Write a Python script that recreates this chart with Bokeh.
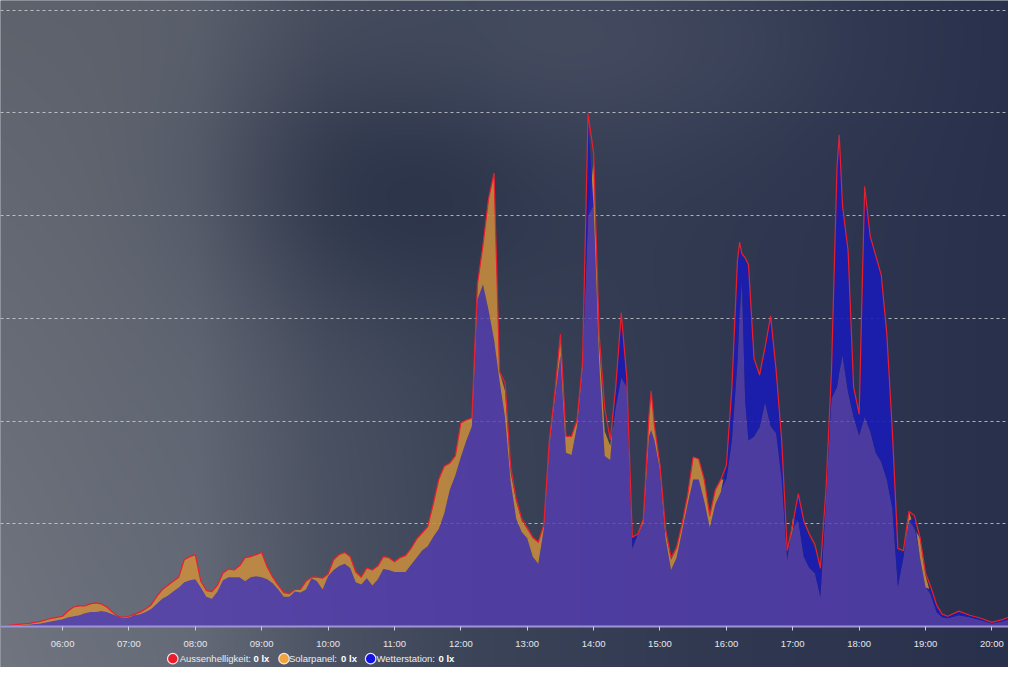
import numpy as np
import pandas as pd
from bokeh.plotting import figure
from bokeh.models import Range1d, FixedTicker, DatetimeTickFormatter, Label, ColumnDataSource, Grid
from bokeh.embed import file_html
from bokeh.resources import INLINE

DAY = "2023-06-15"

# ---------------- data (klx) ----------------
times = ["05:05", "05:10", "05:20", "05:30", "05:40", "05:50",
         "06:00", "06:05", "06:10", "06:15", "06:20", "06:25", "06:30", "06:35", "06:40", "06:45", "06:50", "06:55",
         "07:00", "07:05", "07:10", "07:15", "07:20", "07:25", "07:30", "07:35", "07:40", "07:45", "07:50", "07:55",
         "08:00", "08:05", "08:10", "08:15", "08:20", "08:25", "08:30", "08:35", "08:40", "08:45", "08:50", "08:55",
         "09:00", "09:05", "09:10", "09:15", "09:20", "09:25", "09:30", "09:35", "09:40", "09:45", "09:50", "09:55",
         "10:00", "10:05", "10:10", "10:15", "10:20", "10:25", "10:30", "10:35", "10:40", "10:45", "10:50", "10:55",
         "11:00", "11:05", "11:10", "11:15", "11:20", "11:25", "11:30", "11:35", "11:40", "11:45", "11:50", "11:55",
         "12:00", "12:05", "12:10", "12:15", "12:20", "12:25", "12:30", "12:35", "12:40", "12:45", "12:50", "12:55",
         "13:00", "13:05", "13:10", "13:15", "13:20", "13:25", "13:30", "13:35", "13:40", "13:45", "13:50", "13:55",
         "14:00", "14:05", "14:10", "14:15", "14:20", "14:25", "14:30", "14:35", "14:40", "14:45", "14:50", "14:52", "14:55",
         "15:00", "15:05", "15:10", "15:15", "15:20", "15:25", "15:30", "15:35", "15:40", "15:45", "15:50", "15:55",
         "16:00", "16:05", "16:10", "16:12", "16:14", "16:17", "16:20", "16:25", "16:30", "16:35", "16:40", "16:45", "16:50", "16:55",
         "17:00", "17:05", "17:10", "17:15", "17:20", "17:25", "17:30", "17:35", "17:40", "17:42", "17:45", "17:50", "17:55",
         "18:00", "18:05", "18:10", "18:15", "18:20", "18:25", "18:30", "18:35", "18:40", "18:45", "18:50", "18:55",
         "19:00", "19:05", "19:10", "19:15", "19:20", "19:30", "19:40", "19:50",
         "20:00", "20:10", "20:15"]

aussenhelligkeit = [0.1, 0.1, 0.2, 0.3, 0.5, 0.8,
                    1.0, 1.5, 1.9, 2.0, 2.0, 2.2, 2.3, 2.2, 1.9, 1.4, 1.0, 0.9,
                    1.0, 1.2, 1.4, 1.7, 2.1, 2.9, 3.6, 4.0, 4.4, 4.8, 6.5, 6.8,
                    7.0, 4.4, 3.5, 3.4, 4.0, 5.2, 5.6, 5.5, 5.9, 6.7, 6.8, 7.0,
                    7.2, 5.8, 4.8, 4.0, 3.3, 3.2, 3.6, 3.6, 4.4, 4.8, 4.8, 4.7,
                    5.1, 6.5, 7.0, 7.2, 6.8, 5.3, 4.8, 5.7, 5.5, 5.9, 6.8, 6.7,
                    6.3, 6.7, 6.9, 7.6, 8.5, 9.1, 9.7, 11.9, 14.3, 15.6, 15.9, 16.6,
                    19.8, 20.1, 20.3, 33.3, 37.1, 41.6, 44.1, 24.8, 23.7, 15.6, 12.4, 10.5,
                    9.6, 8.7, 8.2, 9.9, 18.1, 22.8, 28.4, 18.5, 18.5, 20.1, 25.7, 49.9,
                    46.1, 28.5, 21.3, 18.2, 23.3, 30.5, 24.2, 8.7, 9.0, 10.5, 20.4, 22.9, 19.5,
                    15.7, 9.5, 6.7, 7.7, 10.0, 12.8, 16.5, 16.3, 14.3, 10.8, 13.3, 14.3,
                    15.7, 23.3, 35.6, 37.4, 36.3, 35.9, 35.2, 26.1, 24.5, 27.2, 30.2, 24.9, 18.1, 7.4,
                    10.0, 12.9, 10.3, 9.0, 8.0, 5.7, 13.3, 24.9, 44.7, 47.8, 40.9, 36.6, 23.3,
                    20.7, 42.8, 38.0, 36.1, 34.2, 28.5, 19.0, 7.6, 7.4, 11.2, 10.8, 8.7,
                    5.2, 3.8, 2.1, 1.2, 1.0, 1.5, 1.1, 0.8,
                    0.4, 0.7, 0.9]

solarpanel = [0.1, 0.1, 0.2, 0.3, 0.5, 0.8,
              1.0, 1.5, 1.9, 2.0, 2.0, 2.2, 2.3, 2.2, 1.9, 1.4, 1.0, 0.9,
              1.0, 1.1, 1.4, 1.7, 2.1, 2.9, 3.5, 4.0, 4.4, 4.8, 6.5, 6.8,
              7.0, 4.4, 3.5, 3.4, 4.0, 5.2, 5.6, 5.5, 5.9, 6.7, 6.8, 7.0,
              7.2, 5.8, 4.8, 4.0, 3.3, 3.2, 3.6, 3.6, 4.4, 4.8, 4.8, 4.7,
              5.1, 6.5, 7.0, 7.2, 6.8, 5.3, 4.8, 5.7, 5.5, 5.9, 6.8, 6.7,
              6.3, 6.7, 6.9, 7.6, 8.5, 9.1, 9.7, 11.9, 14.3, 15.6, 15.9, 16.6,
              19.8, 20.1, 20.3, 33.3, 37.1, 41.6, 44.1, 24.8, 22.9, 15.0, 12.2, 10.3,
              9.5, 8.6, 8.2, 9.9, 18.1, 22.8, 28.4, 18.5, 18.5, 20.1, 25.5, 39.9,
              45.4, 27.6, 19.0, 17.6, 21.4, 24.2, 23.3, 7.6, 9.0, 10.5, 20.4, 22.9, 19.5,
              15.7, 9.3, 6.5, 7.6, 10.0, 12.8, 16.5, 16.3, 14.3, 10.8, 13.3, 14.3,
              14.3, 18.1, 25.7, 30.4, 33.6, 21.9, 18.1, 18.5, 19.4, 21.8, 19.5, 18.8, 14.3, 6.5,
              10.5, 10.3, 6.8, 5.7, 5.2, 2.9, 12.4, 22.2, 23.3, 24.7, 26.4, 22.8, 20.4,
              18.6, 20.4, 19.0, 16.9, 16.0, 14.3, 11.5, 3.9, 6.7, 11.2, 9.5, 8.6,
              5.0, 3.0, 1.4, 0.9, 0.8, 1.1, 0.9, 0.6,
              0.3, 0.5, 0.7]

wetterstation = [0.0, 0.1, 0.1, 0.2, 0.3, 0.5,
                 0.7, 0.9, 1.0, 1.1, 1.3, 1.4, 1.4, 1.5, 1.4, 1.2, 1.0, 0.8,
                 0.9, 1.1, 1.2, 1.4, 1.7, 2.2, 2.7, 3.0, 3.4, 3.8, 4.3, 4.5,
                 4.6, 3.8, 2.9, 2.7, 3.4, 4.5, 4.8, 4.8, 4.8, 4.4, 4.8, 4.9,
                 4.8, 4.6, 4.2, 3.6, 2.9, 2.9, 3.4, 3.3, 3.6, 4.7, 4.4, 3.6,
                 4.9, 5.5, 5.9, 6.1, 5.7, 4.3, 4.1, 4.7, 4.0, 4.6, 5.6, 5.5,
                 5.3, 5.3, 5.3, 6.0, 6.7, 7.4, 7.8, 8.7, 9.5, 11.0, 13.3, 14.7,
                 16.5, 18.1, 19.5, 31.8, 33.3, 30.8, 27.9, 23.9, 20.3, 14.1, 10.5, 9.2,
                 8.6, 6.8, 6.1, 9.5, 17.6, 22.3, 26.4, 16.9, 16.7, 19.5, 25.2, 49.4,
                 40.9, 25.7, 16.6, 16.2, 23.1, 30.2, 23.8, 8.6, 9.0, 10.1, 18.5, 19.1, 18.1,
                 15.2, 8.6, 5.5, 6.7, 9.3, 11.9, 14.3, 14.3, 12.2, 9.6, 11.9, 13.1,
                 15.7, 23.3, 35.4, 37.2, 36.1, 35.7, 35.1, 25.9, 24.3, 27.0, 30.0, 24.7, 17.9, 7.2,
                 9.5, 12.9, 10.0, 8.7, 7.6, 5.5, 13.3, 24.9, 44.7, 47.8, 40.9, 36.6, 23.3,
                 20.7, 42.8, 38.0, 36.1, 34.2, 28.5, 19.0, 7.4, 7.2, 10.3, 10.6, 6.7,
                 3.8, 3.6, 2.1, 1.2, 1.0, 1.4, 1.1, 0.8,
                 0.4, 0.7, 0.9]

hour_ticks = ["06:00", "07:00", "08:00", "09:00", "10:00", "11:00", "12:00", "13:00",
              "14:00", "15:00", "16:00", "17:00", "18:00", "19:00", "20:00"]
grid_levels = [10, 20, 30, 40, 50, 60]

series_names = ["Aussenhelligkeit", "Solarpanel", "Wetterstation"]
series_values = ["0 lx", "0 lx", "0 lx"]
series_colors = ["#ee1c2a", "#f2a33a", "#1212e6"]

# ---------------- geometry ----------------
W, H = 1008, 667
x_start = pd.Timestamp(f"{DAY} 05:03:55")
x_end = pd.Timestamp(f"{DAY} 20:15:00")
y_bot, y_top = -3.99, 60.93


def ms(ts):
    return ts.value / 1e6


x0_ms, x1_ms = ms(x_start), ms(x_end)


def xd(frac_px):  # reference-pixel -> data x (ms)
    return x0_ms + frac_px / 1024.0 * (x1_ms - x0_ms)


def yd(frac_py):  # reference-pixel -> data y
    return y_top - frac_py / 683.0 * (y_top - y_bot)


t = pd.to_datetime([f"{DAY} {s}" for s in times])
A = np.array(aussenhelligkeit)
S = np.array(solarpanel)
Wt = np.array(wetterstation)
M = np.minimum(S, Wt)
src = ColumnDataSource(data=dict(t=t, A=A, S=S, W=Wt, M=M))

p = figure(width=W, height=H, x_axis_type="datetime",
           x_range=Range1d(x_start, x_end), y_range=Range1d(y_bot, y_top),
           y_axis_location=None, toolbar_location=None, output_backend="svg",
           min_border=0, outline_line_color=None,
           background_fill_color="#3c4459", border_fill_color="#3c4459")

# default grids off (custom dashed grid added below)
p.xgrid.visible = False
p.ygrid.visible = False

# ---------------- background (blurred photo look) ----------------
IW, IH = 512, 342
xs = (np.arange(IW) + 0.5) / IW * 1024
ys = 683 - (np.arange(IH) + 0.5) / IH * 683
X, Y = np.meshgrid(xs, ys)
stops_x = [0, 200, 330, 480, 700, 1024]
stops_c = [(112, 117, 128), (100, 106, 119), (76, 83, 100), (60, 68, 89), (50, 58, 82), (40, 48, 76)]
chan = [np.interp(X, stops_x, [c[k] for c in stops_c]) for k in range(3)]
wl = np.clip(1 - X / 520.0, 0, 1) * 0.16 * (1 - Y / 683.0)
chan = [c * (1 - wl) for c in chan]
g1 = 0.6 * np.exp(-0.5 * (((X - 405) / 120.0) ** 2 + ((Y - 190) / 95.0) ** 2))
dark = (30, 38, 62)
chan = [c * (1 - g1) + dark[k] * g1 for k, c in enumerate(chan)]
g2 = 0.45 * np.exp(-0.5 * (((X - 600) / 170.0) ** 2 + ((Y - 40) / 80.0) ** 2))
light = (84, 90, 108)
chan = [c * (1 - g2) + light[k] * g2 for k, c in enumerate(chan)]
img = np.empty((IH, IW), dtype=np.uint32)
view = img.view(dtype=np.uint8).reshape((IH, IW, 4))
for k in range(3):
    view[:, :, k] = np.clip(chan[k], 0, 255).astype(np.uint8)
view[:, :, 3] = 255
p.image_rgba(image=[img], x=x0_ms, y=y_bot, dw=x1_ms - x0_ms, dh=y_top - y_bot, level="image")

# ---------------- grid / axis ----------------
ygrid = Grid(dimension=1, ticker=FixedTicker(ticks=grid_levels),
             grid_line_color="#e4e4ec", grid_line_alpha=0.7,
             grid_line_dash="3 3", grid_line_width=1, level="underlay")
p.add_layout(ygrid)

tick_ms = [ms(pd.Timestamp(f"{DAY} {h}")) for h in hour_ticks]
ax = p.xaxis[0]
ax.fixed_location = 0
ax.ticker = FixedTicker(ticks=tick_ms, minor_ticks=[])
ax.formatter = DatetimeTickFormatter(hours="%H:%M", hourmin="%H:%M", minutes="%H:%M",
                                     minsec="%H:%M", days="%H:%M")
ax.axis_line_color = "#9d95d6"
ax.axis_line_width = 2
ax.major_tick_line_color = "#cfcce0"
ax.major_tick_out = 4
ax.major_tick_in = 0
ax.minor_tick_out = 0
ax.minor_tick_in = 0
ax.major_label_text_color = "#e6e6ea"
ax.major_label_text_font = "Liberation Sans"
ax.major_label_text_font_size = "9.5px"
ax.major_label_standoff = 7

# ---------------- series ----------------
p.varea(x="t", y1=0, y2="M", source=src, fill_color="#553db3", fill_alpha=0.8)
p.varea(x="t", y1="M", y2="S", source=src, fill_color="#cc8e3e", fill_alpha=0.86)
p.varea(x="t", y1="M", y2="W", source=src, fill_color="#1a1cb2", fill_alpha=0.92)
p.line(x="t", y="A", source=src, line_color="#e8202e", line_width=1.2, line_join="round")

# ---------------- legend (bottom) ----------------
circle_px = [175, 288, 376]
name_px = [182, 293, 382]
value_px = [257, 346, 445]
ly = yd(674)
p.scatter(x=[xd(c) for c in circle_px], y=[ly] * 3, size=10.5, marker="circle",
          fill_color=series_colors, line_color="#e8e8f0", line_width=1.2)
for nm, vl, nx, vx in zip(series_names, series_values, name_px, value_px):
    p.add_layout(Label(x=xd(nx), y=ly, text=nm + ":", text_font="Liberation Sans",
                       text_font_size="9.5px", text_color="#ececf0", text_baseline="middle"))
    p.add_layout(Label(x=xd(vx), y=ly, text=vl, text_font="Liberation Sans",
                       text_font_size="9.5px", text_font_style="bold", text_color="#ffffff",
                       text_baseline="middle"))

open("out.html", "w").write(file_html(p, INLINE))
